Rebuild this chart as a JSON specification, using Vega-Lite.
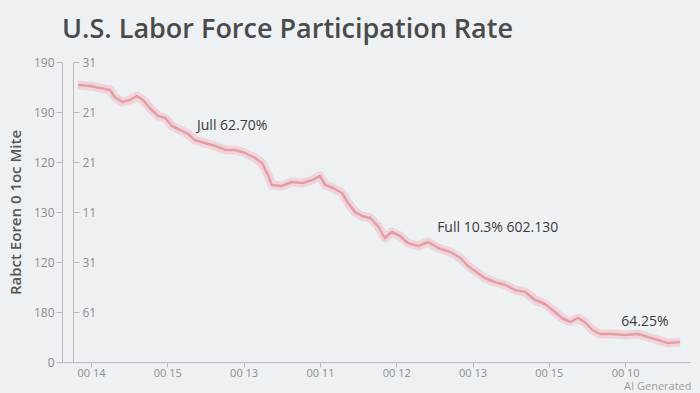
{
  "$schema": "https://vega.github.io/schema/vega-lite/v6.json",
  "autosize": "none",
  "width": 628,
  "height": 300,
  "padding": {"left": 62, "top": 62, "right": 10, "bottom": 31},
  "background": "#eef1f3",
  "title": {
    "text": "U.S. Labor Force Participation Rate",
    "anchor": "start",
    "frame": "group",
    "font": "Open Sans",
    "fontSize": 27,
    "fontWeight": 600,
    "color": "#4a4a4a",
    "offset": 12
  },
  "config": {
    "view": {"stroke": null},
    "font": "Open Sans"
  },
  "datasets": {
    "series": [
      {"t": -0.17, "v": 5.54}, {"t": -0.01, "v": 5.52}, {"t": 0.12, "v": 5.48}, {"t": 0.25, "v": 5.44},
      {"t": 0.31, "v": 5.30}, {"t": 0.41, "v": 5.20}, {"t": 0.51, "v": 5.24}, {"t": 0.60, "v": 5.32},
      {"t": 0.68, "v": 5.24}, {"t": 0.77, "v": 5.08}, {"t": 0.88, "v": 4.92}, {"t": 0.97, "v": 4.88},
      {"t": 1.06, "v": 4.72}, {"t": 1.17, "v": 4.64}, {"t": 1.27, "v": 4.56}, {"t": 1.36, "v": 4.44},
      {"t": 1.49, "v": 4.38}, {"t": 1.63, "v": 4.32}, {"t": 1.76, "v": 4.24}, {"t": 1.89, "v": 4.24},
      {"t": 2.02, "v": 4.18}, {"t": 2.15, "v": 4.08}, {"t": 2.24, "v": 3.98}, {"t": 2.32, "v": 3.74},
      {"t": 2.37, "v": 3.54}, {"t": 2.50, "v": 3.52}, {"t": 2.63, "v": 3.60}, {"t": 2.77, "v": 3.58},
      {"t": 2.90, "v": 3.64}, {"t": 3.00, "v": 3.72}, {"t": 3.07, "v": 3.54}, {"t": 3.17, "v": 3.48},
      {"t": 3.29, "v": 3.38}, {"t": 3.37, "v": 3.18}, {"t": 3.46, "v": 3.00}, {"t": 3.55, "v": 2.92},
      {"t": 3.66, "v": 2.88}, {"t": 3.76, "v": 2.72}, {"t": 3.85, "v": 2.48}, {"t": 3.94, "v": 2.60},
      {"t": 4.05, "v": 2.52}, {"t": 4.15, "v": 2.38}, {"t": 4.29, "v": 2.32}, {"t": 4.42, "v": 2.40},
      {"t": 4.55, "v": 2.28}, {"t": 4.71, "v": 2.20}, {"t": 4.84, "v": 2.08}, {"t": 4.94, "v": 1.92},
      {"t": 5.05, "v": 1.80}, {"t": 5.16, "v": 1.68}, {"t": 5.29, "v": 1.60}, {"t": 5.43, "v": 1.54},
      {"t": 5.56, "v": 1.44}, {"t": 5.69, "v": 1.40}, {"t": 5.82, "v": 1.24}, {"t": 5.95, "v": 1.16},
      {"t": 6.08, "v": 1.00}, {"t": 6.17, "v": 0.88}, {"t": 6.28, "v": 0.80}, {"t": 6.38, "v": 0.88},
      {"t": 6.47, "v": 0.80}, {"t": 6.57, "v": 0.64}, {"t": 6.67, "v": 0.56}, {"t": 6.83, "v": 0.56},
      {"t": 7.00, "v": 0.54}, {"t": 7.17, "v": 0.56}, {"t": 7.30, "v": 0.50}, {"t": 7.43, "v": 0.44},
      {"t": 7.56, "v": 0.38}, {"t": 7.72, "v": 0.40}
    ],
    "notes": [
      {"t": 1.85, "v": 4.72, "label": "Jull 62.70%"},
      {"t": 5.33, "v": 2.68, "label": "Full 10.3% 602.130"},
      {"t": 7.26, "v": 0.80, "label": "64.25%"}
    ],
    "mark": [
      {"t": 7.87, "v": -0.6, "label": "AI Generated"}
    ]
  },
  "layer": [
    {
      "data": {"name": "series"},
      "mark": {"type": "line", "color": "#f0b4bb", "strokeWidth": 9, "opacity": 0.45, "interpolate": "linear", "strokeJoin": "round"},
      "encoding": {
        "x": {
          "field": "t", "type": "quantitative",
          "scale": {"domain": [-0.38, 7.85], "nice": false, "zero": false},
          "axis": {
            "values": [0, 1, 2, 3, 4, 5, 6, 7],
            "labelExpr": "['00 14','00 15','00 13','00 11','00 12','00 13','00 15','00 10'][datum.value]",
            "title": null, "grid": false,
            "domainColor": "#b8bcc0", "tickColor": "#b8bcc0", "tickSize": 5,
            "labelColor": "#8a8e92", "labelFontSize": 11, "labelPadding": 0
          }
        },
        "y": {
          "field": "v", "type": "quantitative",
          "scale": {"domain": [0, 6], "nice": false},
          "axis": {
            "values": [0, 1, 2, 3, 4, 5, 6],
            "labelExpr": "['0','180','120','130','120','190','190'][datum.value]",
            "title": "Rabct Eoren 0 1oc Mite",
            "titleFontSize": 15, "titleFontWeight": 600, "titleColor": "#555",
            "titlePadding": 10,
            "grid": false,
            "domainColor": "#b8bcc0", "tickColor": "#b8bcc0", "tickSize": 6,
            "labelColor": "#8a8e92", "labelFontSize": 12, "labelPadding": 2
          }
        }
      }
    },
    {
      "data": {"name": "series"},
      "mark": {"type": "line", "color": "#e597a1", "strokeWidth": 2.5, "opacity": 0.9, "strokeJoin": "round"},
      "encoding": {
        "x": {"field": "t", "type": "quantitative"},
        "y": {"field": "v", "type": "quantitative", "axis": null}
      }
    },
    {
      "data": {"name": "series"},
      "mark": {"type": "line", "opacity": 0},
      "encoding": {
        "x": {"field": "t", "type": "quantitative"},
        "y": {
          "field": "v", "type": "quantitative",
          "axis": {
            "orient": "right",
            "offset": -617,
            "values": [1, 2, 3, 4, 5, 6],
            "labelExpr": "['','61','31','11','21','21','31'][datum.value]",
            "title": null, "grid": false,
            "domainColor": "#b8bcc0", "tickColor": "#b8bcc0", "tickSize": 6,
            "labelColor": "#8a8e92", "labelFontSize": 12, "labelPadding": 3
          }
        }
      }
    },
    {
      "data": {"name": "notes"},
      "mark": {"type": "text", "fontSize": 14, "color": "#3a3a3a", "fontWeight": 500},
      "encoding": {
        "x": {"field": "t", "type": "quantitative"},
        "y": {"field": "v", "type": "quantitative", "axis": null},
        "text": {"field": "label"}
      }
    },
    {
      "data": {"name": "mark"},
      "mark": {"type": "text", "fontSize": 11, "color": "#9a9ea2", "align": "right", "baseline": "bottom"},
      "encoding": {
        "x": {"field": "t", "type": "quantitative"},
        "y": {"field": "v", "type": "quantitative", "axis": null},
        "text": {"field": "label"}
      }
    }
  ],
  "resolve": {"axis": {"y": "independent"}}
}
